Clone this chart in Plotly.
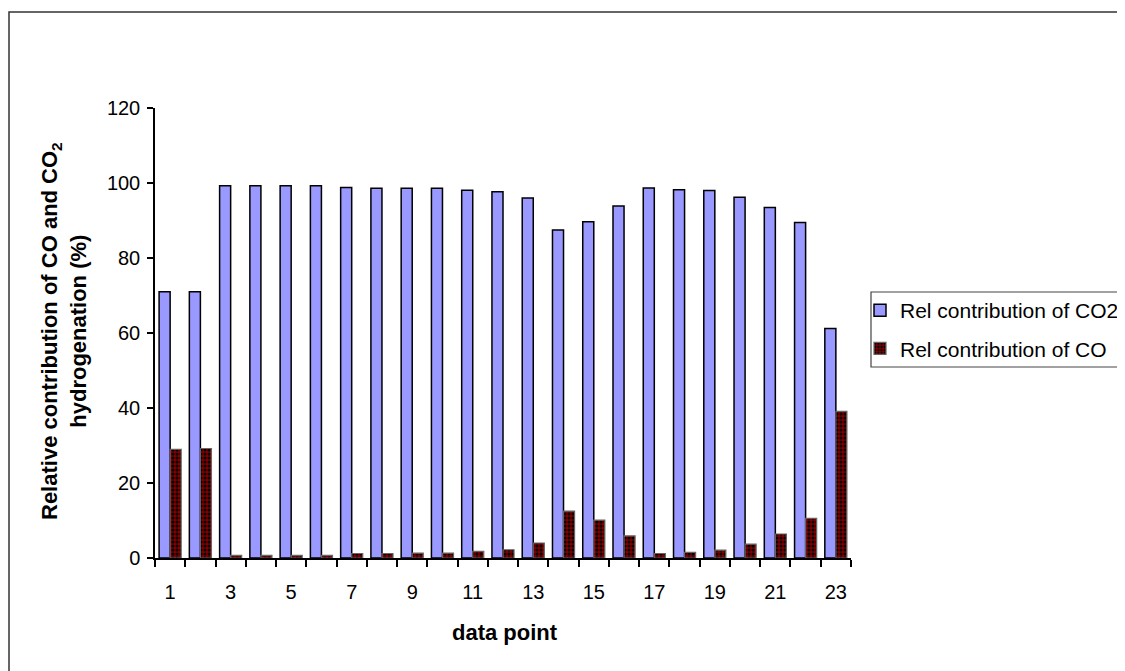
import plotly.graph_objects as go

data_points = list(range(1, 24))
co2_contrib = [71.0, 71.0, 99.3, 99.3, 99.3, 99.3, 98.8, 98.6, 98.6, 98.6, 98.1, 97.7,
               96.0, 87.5, 89.7, 93.9, 98.7, 98.2, 98.0, 96.2, 93.5, 89.5, 61.2]
co_contrib = [29.0, 29.2, 0.7, 0.7, 0.7, 0.7, 1.2, 1.2, 1.3, 1.3, 1.8, 2.2,
              4.0, 12.5, 10.1, 5.9, 1.2, 1.5, 2.1, 3.7, 6.4, 10.6, 39.1]
x_tick_labels = [str(v) for v in data_points if v % 2 == 1]
y_ticks = [0, 20, 40, 60, 80, 100, 120]

FONT = "Liberation Sans, Arial, sans-serif"

fig = go.Figure()
fig.add_trace(go.Bar(
    x=data_points, y=co2_contrib, name="Rel contribution of CO2", legendgroup="co2",
    marker=dict(color="#9999FF", line=dict(color="black", width=1.5)),
))
fig.add_trace(go.Bar(
    x=data_points, y=co_contrib, name="Rel contribution of CO", legendgroup="co",
    marker=dict(color="#800000", line=dict(color="#666666", width=1.2),
                pattern=dict(shape=".", fgcolor="black", bgcolor="#800000",
                             size=4, solidity=0.45, fillmode="replace")),
))

OFF = 8  # page body offset
W, H = 1125, 671
# plot area in reference pixel coordinates
PL, PR, PT, PB = 155, 851, 108, 558
L = PL - OFF
T = PT - OFF
pw, ph = PR - PL, PB - PT
R = W - L - pw
B = H - T - ph

def px_x(p):
    return (p - PL) / pw

def px_y(p):
    return (PB - p) / ph

fig.update_layout(
    width=W, height=H,
    margin=dict(l=L, r=R, t=T, b=B, autoexpand=False),
    paper_bgcolor="white", plot_bgcolor="white",
    barmode="group", bargap=0.27, bargroupgap=0,
    font=dict(family=FONT, size=20, color="black"),
    showlegend=True,
    legend=dict(x=px_x(860), y=px_y(290), xanchor="left", yanchor="top",
                borderwidth=0, bgcolor="rgba(0,0,0,0)",
                font=dict(family=FONT, size=21, color="black"),
                tracegroupgap=8, itemwidth=30),
    xaxis=dict(
        range=[0.5, 23.5], showgrid=False, zeroline=False,
        showline=True, linecolor="black", linewidth=1.5,
        tickmode="array", tickvals=[v for v in data_points if v % 2 == 1],
        ticktext=x_tick_labels, ticks="", ticklabelstandoff=15,
        tickfont=dict(family=FONT, size=20, color="black"),
        minor=dict(tickmode="array",
                   tickvals=[v - 0.5 for v in data_points] + [data_points[-1] + 0.5],
                   ticks="outside", ticklen=7, tickcolor="black", tickwidth=1.5,
                   showgrid=False),
    ),
    yaxis=dict(
        range=[0, 120], showgrid=False, zeroline=False,
        showline=True, linecolor="black", linewidth=1.5,
        tickmode="array", tickvals=y_ticks,
        ticks="outside", ticklen=6, tickcolor="black", tickwidth=1.5,
        ticklabelstandoff=3,
        tickfont=dict(family=FONT, size=20, color="black"),
    ),
    annotations=[
        dict(text="<b>Relative contribution of CO and CO<sub>2</sub><br>hydrogenation (%)</b>",
             xref="paper", yref="paper", x=px_x(64), y=px_y(331),
             xanchor="center", yanchor="middle", textangle=-90, showarrow=False,
             font=dict(family=FONT, size=22, color="black")),
        dict(text="<b>data point</b>",
             xref="paper", yref="paper", x=px_x(505), y=px_y(632),
             xanchor="center", yanchor="middle", showarrow=False,
             font=dict(family=FONT, size=22, color="black")),
    ],
    shapes=[
        dict(type="rect", xref="paper", yref="paper",
             x0=px_x(9), x1=px_x(1600), y0=px_y(900), y1=px_y(12),
             line=dict(color="#333333", width=1.5), fillcolor="rgba(0,0,0,0)",
             layer="below"),
        dict(type="rect", xref="paper", yref="paper",
             x0=px_x(871), x1=px_x(1600), y0=px_y(367), y1=px_y(292),
             line=dict(color="#444444", width=1.2), fillcolor="white",
             layer="below"),
    ],
)

fig.write_html(
    "out.html",
    post_script="document.documentElement.style.overflow='hidden';"
                "document.body.style.overflow='hidden';",
)
